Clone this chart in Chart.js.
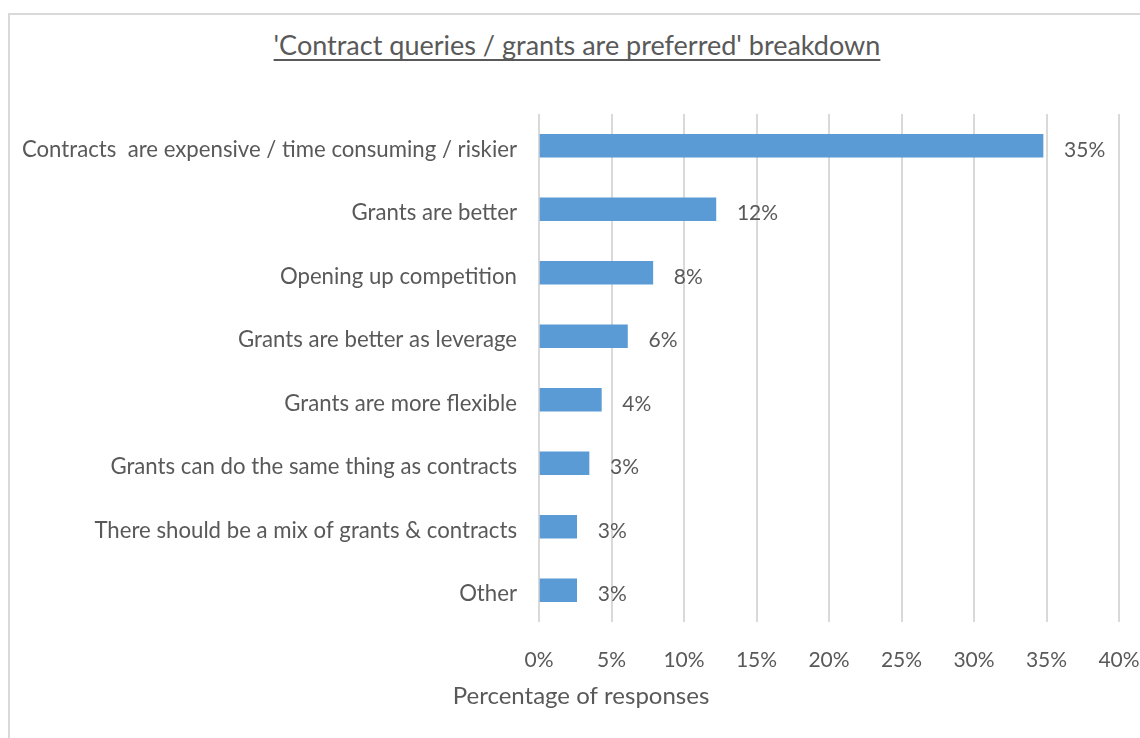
<!DOCTYPE html>
<html>
<head>
<meta charset="utf-8">
<script src="https://cdn.jsdelivr.net/npm/chart.js@4"></script>
<style>
  html, body { margin: 0; padding: 0; background: #fff; }
  body { width: 1140px; height: 738px; position: relative; overflow: hidden; }
  #marco {
    position: absolute; left: 8px; top: 13px; width: 1200px; height: 800px;
    border-left: 2px solid #d9d9d9; border-top: 2px solid #d9d9d9;
  }
  #titulo {
    position: absolute; left: 0; top: 28px; width: 1154px; text-align: center;
    font-family: Lato, sans-serif; font-size: 27px; color: #595959;
    text-decoration: underline; text-decoration-thickness: 2px; text-underline-offset: 4px;
    text-decoration-skip-ink: none;
  }
  #lienzo { position: absolute; left: 0; top: 0; }
</style>
</head>
<body>
<div id="marco"></div>
<div id="titulo">'Contract queries / grants are preferred' breakdown</div>
<canvas id="lienzo" width="1140" height="738"></canvas>
<script>
// categorias y porcentajes de respuestas
const categorias = [
  'Contracts  are expensive / time consuming / riskier',
  'Grants are better',
  'Opening up competition',
  'Grants are better as leverage',
  'Grants are more flexible',
  'Grants can do the same thing as contracts',
  'There should be a mix of grants & contracts',
  'Other'
];
const porcentajes = [34.76, 12.2, 7.85, 6.1, 4.3, 3.45, 2.6, 2.6];
const ticksEjeX = [0, 5, 10, 15, 20, 25, 30, 35, 40];
const tituloEjeX = 'Percentage of responses';

const GRIS = '#595959';
const FUENTE = 'Lato, sans-serif';

// etiqueta con el valor a la derecha de cada barra
const etiquetasBarras = {
  id: 'etiquetasBarras',
  afterDatasetsDraw(chart) {
    const ctx = chart.ctx;
    const meta = chart.getDatasetMeta(0);
    ctx.save();
    ctx.font = '21px ' + FUENTE;
    ctx.fillStyle = GRIS;
    ctx.textBaseline = 'middle';
    ctx.textAlign = 'left';
    meta.data.forEach((barra, i) => {
      const valor = chart.data.datasets[0].data[i];
      ctx.fillText(Math.round(valor) + '%', barra.x + 21, barra.y + 4);
    });
    ctx.restore();
  }
};

// titulo del eje x, centrado en todo el grafico
const tituloAbajo = {
  id: 'tituloAbajo',
  afterDraw(chart) {
    const ctx = chart.ctx;
    ctx.save();
    ctx.font = '24px ' + FUENTE;
    ctx.fillStyle = GRIS;
    ctx.textBaseline = 'middle';
    ctx.textAlign = 'center';
    ctx.fillText(tituloEjeX, 581, chart.chartArea.bottom + 74);
    ctx.restore();
  }
};

new Chart(document.getElementById('lienzo'), {
  type: 'bar',
  data: {
    labels: categorias,
    datasets: [{
      data: porcentajes,
      backgroundColor: '#5b9bd5',
      barThickness: 23
    }]
  },
  options: {
    indexAxis: 'y',
    responsive: false,
    animation: false,
    layout: { padding: { top: 114, right: 21, left: 0, bottom: 0 } },
    plugins: {
      legend: { display: false },
      tooltip: { enabled: false }
    },
    scales: {
      x: {
        min: 0,
        max: 40,
        afterBuildTicks(eje) {
          eje.ticks = ticksEjeX.map(v => ({ value: v }));
        },
        afterFit(eje) {
          eje.height = 116;
          eje.paddingRight = 0;
          eje.paddingLeft = 0;
        },
        grid: { color: '#d9d9d9', lineWidth: 2, drawTicks: false },
        border: { display: false },
        ticks: {
          padding: 26,
          color: GRIS,
          font: { family: FUENTE, size: 21 },
          callback: v => v + '%'
        }
      },
      y: {
        afterFit(eje) { eje.width = 539; },
        grid: { display: false, drawTicks: false },
        border: { display: false },
        ticks: {
          padding: 22,
          labelOffset: 4,
          color: GRIS,
          font: { family: FUENTE, size: 22.2 }
        }
      }
    }
  },
  plugins: [etiquetasBarras, tituloAbajo]
});
</script>
</body>
</html>
